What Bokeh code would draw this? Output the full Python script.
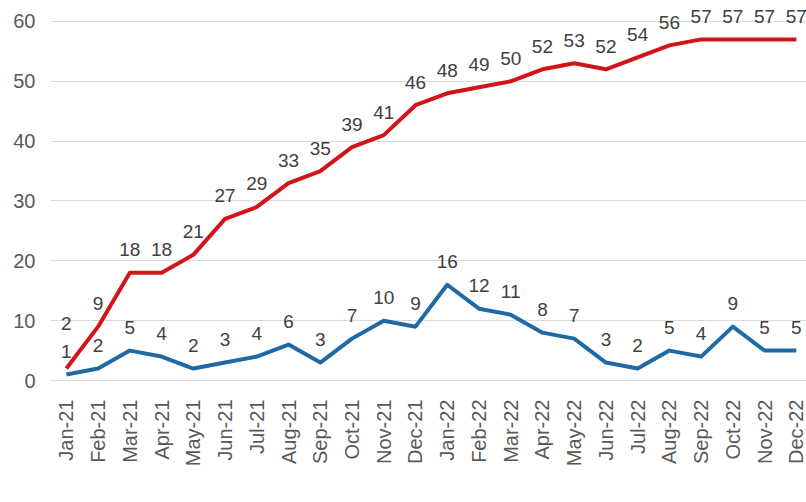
import math
from bokeh.plotting import figure
from bokeh.models import (ColumnDataSource, Range1d, FixedTicker, Legend, LegendItem, Title)
from bokeh.core.properties import value
from bokeh.embed import file_html
from bokeh.resources import INLINE

months = ["Jan-21", "Feb-21", "Mar-21", "Apr-21", "May-21", "Jun-21", "Jul-21", "Aug-21",
          "Sep-21", "Oct-21", "Nov-21", "Dec-21", "Jan-22", "Feb-22", "Mar-22", "Apr-22",
          "May-22", "Jun-22", "Jul-22", "Aug-22", "Sep-22", "Oct-22", "Nov-22", "Dec-22"]
visits = [1, 2, 5, 4, 2, 3, 4, 6, 3, 7, 10, 9, 16, 12, 11, 8, 7, 3, 2, 5, 4, 9, 5, 5]
census = [2, 9, 18, 18, 21, 27, 29, 33, 35, 39, 41, 46, 48, 49, 50, 52, 53, 52, 54, 56, 57, 57, 57, 57]
y_ticks = [0, 10, 20, 30, 40, 50, 60]

FONT = "Liberation Sans"
BLUE = "#1f6aa5"
RED = "#d0141a"

x = list(range(len(months)))

p = figure(frame_width=756, frame_height=389, output_backend="svg", toolbar_location=None,
           x_range=Range1d(-0.5, 23.32), y_range=Range1d(-1.5, 63.5),
           min_border_left=50, min_border_right=0, min_border_top=0, min_border_bottom=0)
p.outline_line_color = None
p.background_fill_color = "white"
p.border_fill_color = "white"

p.xgrid.grid_line_color = None
p.ygrid.grid_line_color = "#d9d9d9"
p.ygrid.grid_line_width = 1

p.yaxis.ticker = FixedTicker(ticks=y_ticks)
p.xaxis.ticker = FixedTicker(ticks=x)
p.xaxis.major_label_overrides = {i: m for i, m in enumerate(months)}
p.xaxis.major_label_orientation = math.pi / 2
for ax in (p.xaxis, p.yaxis):
    ax.axis_line_color = None
    ax.major_tick_line_color = None
    ax.minor_tick_line_color = None
    ax.major_tick_in = 0
    ax.major_tick_out = 0
    ax.major_label_text_font = FONT
    ax.major_label_text_font_size = "20px"
    ax.major_label_text_color = "#595959"
p.yaxis.major_label_standoff = 15
p.xaxis.major_label_standoff = 10

vsrc = ColumnDataSource(dict(x=x, y=visits, t=[str(v) for v in visits],
                             dy=[-23] * len(visits)))
cdy = [-23] * len(census)
cdy[0] = -45
csrc = ColumnDataSource(dict(x=x, y=census, t=[str(v) for v in census], dy=cdy))

rv = p.line("x", "y", source=vsrc, line_color=BLUE, line_width=4, line_join="round")
rc = p.line("x", "y", source=csrc, line_color=RED, line_width=4, line_join="round")

for src in (vsrc, csrc):
    p.text("x", "y", text="t", source=src, y_offset="dy", text_align="center",
           text_baseline="middle", text_font=value(FONT), text_font_size="19px",
           text_color="#404040")

# empty spacer below the axis so that the canvas reaches the legend row
p.add_layout(Title(text="\u00a0", text_font_size="30px", standoff=0), "below")

legend = Legend(items=[LegendItem(label="Number of Visits", renderers=[rv]),
                       LegendItem(label="Census", renderers=[rc])],
                orientation="horizontal", location=(204, -109))
legend.label_text_font = FONT
legend.label_text_font_size = "19px"
legend.label_text_color = "#595959"
legend.glyph_width = 38
legend.label_standoff = 1
legend.spacing = 24
legend.border_line_color = None
legend.background_fill_alpha = 0
legend.padding = 0
legend.margin = 0
p.add_layout(legend, "center")

open("out.html", "w").write(file_html(p, INLINE))
